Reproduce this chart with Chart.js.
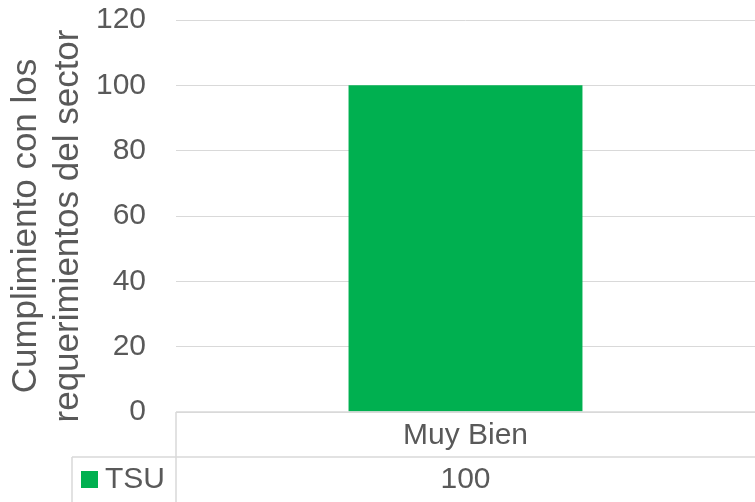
<!DOCTYPE html>
<html>
<head>
<meta charset="utf-8">
<script src="https://cdn.jsdelivr.net/npm/chart.js@4/dist/chart.umd.min.js"></script>
<style>
  html, body { margin: 0; padding: 0; background: #fff; }
  #wrap { width: 755px; height: 502px; }
</style>
</head>
<body>
<div id="wrap"><canvas id="chart" width="755" height="502"></canvas></div>
<script>
  const categories = ['Muy Bien'];
  const seriesName = 'TSU';
  const tsuValues = [100];
  const yTicks = [0, 20, 40, 60, 80, 100, 120];
  const yTitle = ['Cumplimiento con los', 'requerimientos del sector'];

  const green = '#00B050';
  const textColor = '#595959';
  const lineColor = '#D9D9D9';
  const fontFamily = 'Arial, "Liberation Sans", sans-serif';

  // data table under the plot (category row + series row), Excel style
  const dataTable = {
    id: 'dataTable',
    afterDraw: function (chart) {
      const ctx = chart.ctx;
      const area = chart.chartArea;
      const xs = chart.scales.x;
      const right = chart.width;
      const rowTop = area.bottom;
      const rowMid = 457;
      const rowBottom = chart.height;
      const legendLeft = 72;

      ctx.save();
      ctx.strokeStyle = lineColor;
      ctx.lineWidth = 1.5;
      ctx.beginPath();
      ctx.moveTo(area.left, rowTop); ctx.lineTo(right, rowTop);
      ctx.moveTo(area.left, rowTop); ctx.lineTo(area.left, rowBottom);
      ctx.moveTo(legendLeft, rowMid); ctx.lineTo(right, rowMid);
      ctx.moveTo(legendLeft, rowMid); ctx.lineTo(legendLeft, rowBottom);
      ctx.stroke();

      ctx.fillStyle = textColor;
      ctx.font = '30px ' + fontFamily;
      ctx.textAlign = 'center';
      ctx.textBaseline = 'middle';
      categories.forEach(function (c, i) {
        const x = xs.getPixelForValue(i);
        ctx.fillText(c, x, 436);
        ctx.fillText(String(tsuValues[i]), x, 480);
      });

      ctx.fillStyle = green;
      ctx.fillRect(81, 471, 17, 17);
      ctx.fillStyle = textColor;
      ctx.textAlign = 'left';
      ctx.fillText(seriesName, 105, 480);

      ctx.translate(47, 226);
      ctx.rotate(-Math.PI / 2);
      ctx.font = '35px ' + fontFamily;
      ctx.textAlign = 'center';
      ctx.fillText(yTitle[0], 0, -21);
      ctx.fillText(yTitle[1], 0, 21);
      ctx.restore();
    }
  };

  new Chart(document.getElementById('chart'), {
    type: 'bar',
    data: {
      labels: categories,
      datasets: [{
        label: seriesName,
        data: tsuValues,
        backgroundColor: green,
        borderWidth: 0,
        barPercentage: 0.404,
        categoryPercentage: 1,
      }],
    },
    options: {
      responsive: false,
      animation: false,
      layout: { padding: { top: 20, bottom: 90, left: 0, right: 0 } },
      plugins: { legend: { display: false }, tooltip: { enabled: false } },
      scales: {
        x: { display: false },
        y: {
          min: 0,
          max: 120,
          afterBuildTicks: function (scale) { scale.ticks = yTicks.map(function (v) { return { value: v }; }); },
          afterFit: function (scale) {
            scale.width = 176;
            scale.paddingTop = 0;
            scale.paddingBottom = 0;
          },
          ticks: { color: textColor, font: { family: fontFamily, size: 30 }, padding: 30 },
          grid: { color: lineColor, lineWidth: 1, drawTicks: false },
          border: { display: false },
        },
      },
    },
    plugins: [dataTable],
  });
</script>
</body>
</html>
